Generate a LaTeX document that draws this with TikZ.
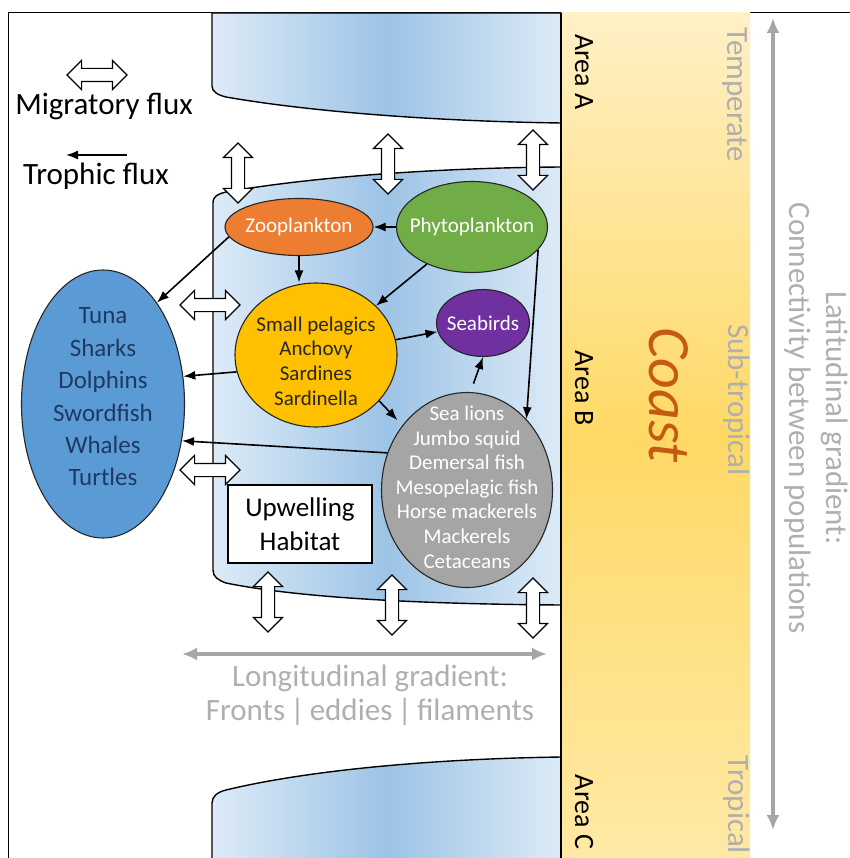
\documentclass[tikz,border=0pt]{standalone}
\usepackage{fontspec}
\setmainfont{Carlito}
\usetikzlibrary{arrows.meta,shapes.geometric,shapes.arrows}
\definecolor{cZoo}{HTML}{ED7D31}
\definecolor{cPhy}{HTML}{70AD47}
\definecolor{cSma}{HTML}{FFC000}
\definecolor{cBir}{HTML}{7030A0}
\definecolor{cPre}{HTML}{A5A5A5}
\definecolor{cTun}{HTML}{5B9BD5}
\definecolor{cNavy}{HTML}{1F3864}
\definecolor{cHabL}{HTML}{DDEBF7}
\definecolor{cHabM}{HTML}{9DC3E6}
\definecolor{cCoT}{HTML}{FFF0C6}
\definecolor{cCoM}{HTML}{FFD966}
\definecolor{cCoB}{HTML}{FFE9A6}
\definecolor{cCoast}{HTML}{C55A11}
\definecolor{cGr}{HTML}{A6A6A6}

\begin{document}
\begin{tikzpicture}[x=1pt, y=-1pt, >={Latex[length=12pt,width=9pt]},
  web/.style={ellipse, draw=black!85, line width=1.1pt, inner sep=0pt},
  wtxt/.style={align=center, text=white, font=\fontsize{21}{24.6}\selectfont},
  mig/.style={double arrow, draw=black, fill=white, line width=1.1pt,
    minimum height=60pt, inner xsep=0pt, inner ysep=6pt,
    double arrow head extend=8pt, double arrow tip angle=90},
  tr/.style={->, line width=1.6pt},
  gr/.style={{Latex[length=15pt,width=13pt]}-{Latex[length=15pt,width=13pt]},
    line width=3.5pt, draw=cGr},
  hab/.style={draw=black, line width=1.4pt, left color=cHabL,
    right color=cHabL, middle color=cHabM},
  side/.style={rotate=-90, text=cGr!90, font=\fontsize{31}{37}\selectfont, align=center},
  area/.style={rotate=-90, font=\fontsize{28}{30}\selectfont},
  lgd/.style={font=\fontsize{31}{34}\selectfont}]
\useasboundingbox (0,0) rectangle (849,858);
% frame and coast
\draw[line width=1pt] (8,862) -- (8,13) -- (853,13);
\fill[top color=cCoT, bottom color=cCoB, middle color=cCoM] (561,13) rectangle (750,862);
% habitat areas A, B, C
\path[hab] (561,13) -- (212,13) -- (212,86) .. controls (212,92) and (218,95) .. (226,97)
  .. controls (300,110) and (420,121) .. (561,123) -- cycle;
\path[hab] (561,167) .. controls (420,168) and (300,179) .. (226,192)
  .. controls (218,194) and (213,196) .. (213,203) -- (213,570)
  .. controls (213,577) and (218,580) .. (226,583)
  .. controls (300,598) and (420,604) .. (561,605) -- cycle;
\path[hab] (561,757) .. controls (420,759) and (300,772) .. (226,790)
  .. controls (218,792) and (212,796) .. (212,803) -- (212,866) -- (561,866) -- cycle;
\draw[line width=2.6pt] (561,13) -- (561,862);
% coast labels
\node[area] (arA) at (584,72) {Area A};
\node[area] (arB) at (584,388) {Area B};
\node[area] (arC) at (584,812) {Area C};
\node[rotate=-90, text=cCoast, font=\fontsize{60}{60}\selectfont\itshape] (coast) at (669,395) {Coast};
\node[side] (temp) at (735,95) {Temperate};
\node[side] (subt) at (737,400) {Sub-tropical};
\node[side] (trop) at (737,805) {Tropical};
\node[side] (lat) at (816,418) {Latitudinal gradient:\\Connectivity between populations};
\coordinate (latN) at (773,18);
\coordinate (latS) at (773,830);
\draw[gr] (latS) -- (latN);
% legend
\node[mig] (lgm) at (97,75) {};
\node[lgd] (lgmt) at (104,106) {Migratory flux};
\coordinate (lgta) at (127,155);
\coordinate (lgtb) at (66,155);
\draw[tr] (lgta) -- (lgtb);
\node[lgd] (lgtt) at (96,176) {Trophic flux};
% food web
\node[web, fill=cZoo, minimum width=148pt, minimum height=57pt] (zoo) at (299,227) {};
\node[wtxt] (zooT) at (zoo) {Zooplankton};
\node[web, fill=cPhy, minimum width=151pt, minimum height=91pt] (phy) at (472,227) {};
\node[wtxt] (phyT) at (phy) {Phytoplankton};
\node[web, fill=cSma, minimum width=162pt, minimum height=144pt] (sma) at (316,355) {};
\node[wtxt, text=black!85] (smaT) at (316,361) {Small pelagics\\Anchovy\\Sardines\\Sardinella};
\node[web, fill=cBir, minimum width=93pt, minimum height=67pt] (bir) at (483,323) {};
\node[wtxt] (birT) at (bir) {Seabirds};
\node[web, fill=cPre, minimum width=171pt, minimum height=195pt] (pre) at (467,490) {};
\node[wtxt] (preT) at (467,487)
  {Sea lions\\Jumbo squid\\Demersal fish\\Mesopelagic fish\\Horse mackerels\\Mackerels\\Cetaceans};
\node[web, fill=cTun, minimum width=163pt, minimum height=268pt] (tun) at (103,404) {};
\node[wtxt, text=cNavy, font=\fontsize{25}{32.4}\selectfont] (tunT) at (103,397)
  {Tuna\\Sharks\\Dolphins\\Swordfish\\Whales\\Turtles};
\node[draw, fill=white, line width=1.2pt, minimum width=144pt, minimum height=78pt,
  align=center, font=\fontsize{27}{34}\selectfont] (upw) at (300,524) {Upwelling\\Habitat};
\draw[tr] (phy) -- (zoo);
\draw[tr] (zoo.south) -- (zoo.south |- sma.north);
\draw[tr] (phy) -- (sma);
\draw[tr] (phy.-19) -- (pre.50);
\draw[tr] (sma) -- (bir);
\draw[tr, shorten <=9pt] (pre.88) -- (bir.south);
\draw[tr, shorten >=7pt] (sma.-36) -- (pre.135);
\draw[tr] (zoo.188) -- (tun.62);
\draw[tr] (sma.192) -- (tun.19);
\draw[tr] (pre.155) -- (tun.-25);
% migratory fluxes
\node[mig, rotate=90] (m1) at (238,173) {};
\node[mig, rotate=90] (m2) at (388,164) {};
\node[mig, rotate=90] (m3) at (533,160) {};
\node[mig, rotate=90] (m4) at (268,602) {};
\node[mig, rotate=90] (m5) at (392,605) {};
\node[mig, rotate=90] (m6) at (533,608) {};
\node[mig] (m7) at (210,305) {};
\node[mig] (m8) at (210,470) {};
% longitudinal gradient
\coordinate (lonW) at (182,654);
\coordinate (lonE) at (547,654);
\draw[gr] (lonW) -- (lonE);
\node[text=cGr!90, align=center, font=\fontsize{31}{34}\selectfont] (lon) at (370,695)
  {Longitudinal gradient:\\Fronts\,|\,eddies\,|\,filaments};
\end{tikzpicture}
\end{document}
